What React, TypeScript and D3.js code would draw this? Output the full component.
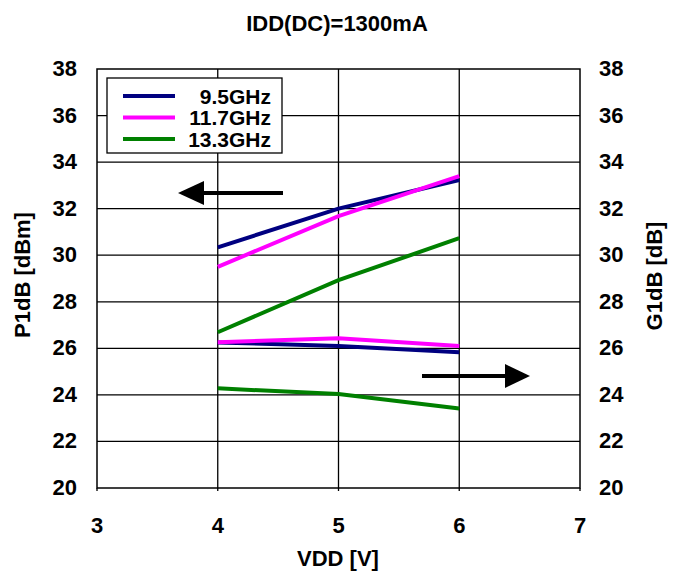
import React from "react";
import * as d3 from "d3";

const vdd = [4, 5, 6];
const seriesNames = ["9.5GHz", "11.7GHz", "13.3GHz"];
const seriesColors = ["#000080", "#FF00FF", "#008000"];
const p1dB9_5 = [30.34, 32.0, 33.23];
const p1dB11_7 = [29.5, 31.68, 33.4];
const p1dB13_3 = [26.69, 28.93, 30.73];
const g1dB9_5 = [26.25, 26.1, 25.83];
const g1dB11_7 = [26.26, 26.43, 26.1];
const g1dB13_3 = [24.28, 24.04, 23.42];
const xTicks = [3, 4, 5, 6, 7];
const yTicks = [20, 22, 24, 26, 28, 30, 32, 34, 36, 38];

const W = 680, H = 575;
const L = 97, R = 580, T = 69, B = 488;

export default function App() {
  const x = d3.scaleLinear().domain([3, 7]).range([L, R]);
  const y = d3.scaleLinear().domain([20, 38]).range([B, T]);
  const y2 = d3.scaleLinear().domain([20, 38]).range([B, T]);
  const line = (s: any) =>
    d3.line<number>().x((_, i) => x(vdd[i])).y((v) => s(v)) as any;
  const pSeries = [p1dB9_5, p1dB11_7, p1dB13_3];
  const gSeries = [g1dB9_5, g1dB11_7, g1dB13_3];
  const font = "'Liberation Sans', Arial, sans-serif";
  const legY = [96, 117.5, 139];
  const fs = 22;
  return (
    <svg width={W} height={H} style={{ position: "absolute", left: 0, top: 0, background: "#fff" }} fontFamily={font} fontWeight="bold">
      <rect x={0} y={0} width={W} height={H} fill="#fff" />
      <text x={337} y={31} textAnchor="middle" fontSize={fs}>IDD(DC)=1300mA</text>
      {/* grid */}
      {yTicks.slice(1, -1).map((t) => (
        <line key={"h" + t} x1={L} x2={R} y1={y(t)} y2={y(t)} stroke="#000" strokeWidth={1.3} />
      ))}
      {xTicks.slice(1, -1).map((t) => (
        <line key={"v" + t} x1={x(t)} x2={x(t)} y1={T} y2={B} stroke="#000" strokeWidth={1.3} />
      ))}
      <rect x={L} y={T} width={R - L} height={B - T} fill="none" stroke="#000" strokeWidth={1.5} />
      {xTicks.map((t) => (
        <line key={"xt" + t} x1={x(t)} x2={x(t)} y1={B} y2={B + 3} stroke="#000" strokeWidth={1.3} />
      ))}
      {/* tick labels */}
      {yTicks.map((t) => (
        <text key={"yl" + t} x={77} y={y(t) + 7} textAnchor="end" fontSize={fs}>{t}</text>
      ))}
      {yTicks.map((t) => (
        <text key={"yr" + t} x={599} y={y2(t) + 7} textAnchor="start" fontSize={fs}>{t}</text>
      ))}
      {xTicks.map((t) => (
        <text key={"xl" + t} x={x(t)} y={533} textAnchor="middle" fontSize={fs}>{t}</text>
      ))}
      <text x={338} y={566} textAnchor="middle" fontSize={fs}>VDD [V]</text>
      <text transform={`translate(30,${275}) rotate(-90)`} textAnchor="middle" fontSize={fs}>P1dB [dBm]</text>
      <text transform={`translate(662,${276}) rotate(-90)`} textAnchor="middle" fontSize={fs}>G1dB [dB]</text>
      {/* series */}
      {pSeries.map((s, i) => (
        <path key={"p" + i} d={line(y)(s)} fill="none" stroke={seriesColors[i]} strokeWidth={4} />
      ))}
      {gSeries.map((s, i) => (
        <path key={"g" + i} d={line(y2)(s)} fill="none" stroke={seriesColors[i]} strokeWidth={4} />
      ))}
      {/* arrows */}
      <line x1={283} x2={195} y1={193} y2={193} stroke="#000" strokeWidth={4} />
      <polygon points="178,193 204,181 204,205" fill="#000" />
      <line x1={422} x2={510} y1={376} y2={376} stroke="#000" strokeWidth={4} />
      <polygon points="530,376 505,364 505,388" fill="#000" />
      {/* legend */}
      <rect x={107} y={78} width={175} height={75} fill="#fff" stroke="#000" strokeWidth={1.3} />
      {seriesNames.map((n, i) => (
        <g key={"lg" + i}>
          <line x1={123} x2={175} y1={legY[i]} y2={legY[i]} stroke={seriesColors[i]} strokeWidth={4} />
          <text x={271} y={legY[i] + 7.5} textAnchor="end" fontSize={21}>{n}</text>
        </g>
      ))}
    </svg>
  );
}
